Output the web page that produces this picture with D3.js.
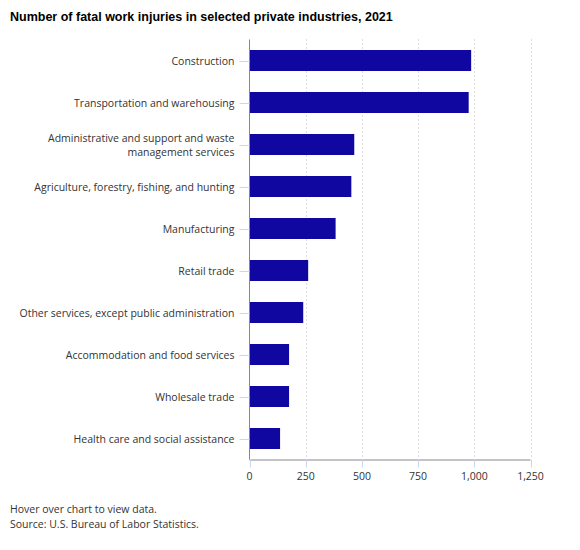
<!DOCTYPE html>
<html><head><meta charset="utf-8">
<script src="https://cdn.jsdelivr.net/npm/d3@7"></script>
<style>body{margin:0;background:#fff;} text{font-family:"Open Sans",sans-serif;}</style>
</head><body><svg id="c" width="580" height="550"></svg>
<script>
const categories = ["Construction","Transportation and warehousing","Administrative and support and waste management services","Agriculture, forestry, fishing, and hunting","Manufacturing","Retail trade","Other services, except public administration","Accommodation and food services","Wholesale trade","Health care and social assistance"];
const labelLines = [["Construction"],["Transportation and warehousing"],["Administrative and support and waste","management services"],["Agriculture, forestry, fishing, and hunting"],["Manufacturing"],["Retail trade"],["Other services, except public administration"],["Accommodation and food services"],["Wholesale trade"],["Health care and social assistance"]];
const values = [986, 975, 466, 453, 383, 261, 239, 176, 176, 136];
const xTicks = [0, 250, 500, 750, 1000, 1250];
const footerLines = ["Hover over chart to view data.", "Source: U.S. Bureau of Labor Statistics."];

const svg = d3.select("#c");
const m = {left: 249.5, right: 530.5, top: 39.5, bottom: 459.5};
const x = d3.scaleLinear().domain([0, 1250]).range([m.left, m.right]);
const y = d3.scaleBand().domain(categories).range([m.top, m.bottom]).paddingInner(0.5).paddingOuter(0.25);

svg.append("text").attr("x", 10).attr("y", 21).text("Number of fatal work injuries in selected private industries, 2021")
  .style("font-family", "Arial, 'Liberation Sans', sans-serif").style("font-weight", "bold").style("font-size", "12.5px").attr("fill", "#000");

// grid
svg.append("g").selectAll("line").data(xTicks.slice(1)).join("line")
  .attr("x1", d => Math.round(x(d)) + 0.5).attr("x2", d => Math.round(x(d)) + 0.5)
  .attr("y1", m.top).attr("y2", m.bottom)
  .attr("stroke", "#bbb").attr("stroke-dasharray", "1,3");

// bars
svg.append("g").selectAll("rect").data(values).join("rect")
  .attr("x", x(0)).attr("y", (d, i) => y(categories[i]))
  .attr("width", d => x(d) - x(0)).attr("height", y.bandwidth())
  .attr("fill", "#1006a0");

// y axis
const ya = svg.append("g");
ya.append("line").attr("x1", m.left).attr("x2", m.left).attr("y1", m.top).attr("y2", m.bottom).attr("stroke", "#888").attr("stroke-width", 1);
categories.forEach((c, i) => {
  const cy = y(c) + y.bandwidth() / 2;
  ya.append("line").attr("x1", m.left - 10).attr("x2", m.left).attr("y1", Math.round(cy) + 0.5).attr("y2", Math.round(cy) + 0.5).attr("stroke", "#ccd6eb");
  const lines = labelLines[i];
  const t = ya.append("text").attr("text-anchor", "end").attr("font-size", "10.5px").attr("fill", "#333");
  lines.forEach((l, j) => {
    t.append("tspan").attr("x", m.left - 15).attr("y", cy + 4 + (j - (lines.length - 1) / 2) * 14).text(l);
  });
});

// x axis
const xa = svg.append("g");
xa.append("line").attr("x1", m.left).attr("x2", m.right).attr("y1", m.bottom + 0.5).attr("y2", m.bottom + 0.5).attr("stroke", "#888");
xTicks.forEach(v => {
  xa.append("line").attr("x1", Math.round(x(v)) + 0.5).attr("x2", Math.round(x(v)) + 0.5).attr("y1", m.bottom).attr("y2", m.bottom + 8).attr("stroke", "#ccd6eb");
  xa.append("text").attr("x", x(v)).attr("y", m.bottom + 20).attr("text-anchor", "middle").attr("font-size", "10.5px").attr("fill", "#333").text(d3.format(",")(v));
});

footerLines.forEach((l, j) => svg.append("text").attr("font-size", "10.5px").attr("fill", "#333")
  .attr("x", 10).attr("y", 513 + j * 14.5).text(l));
</script></body></html>
